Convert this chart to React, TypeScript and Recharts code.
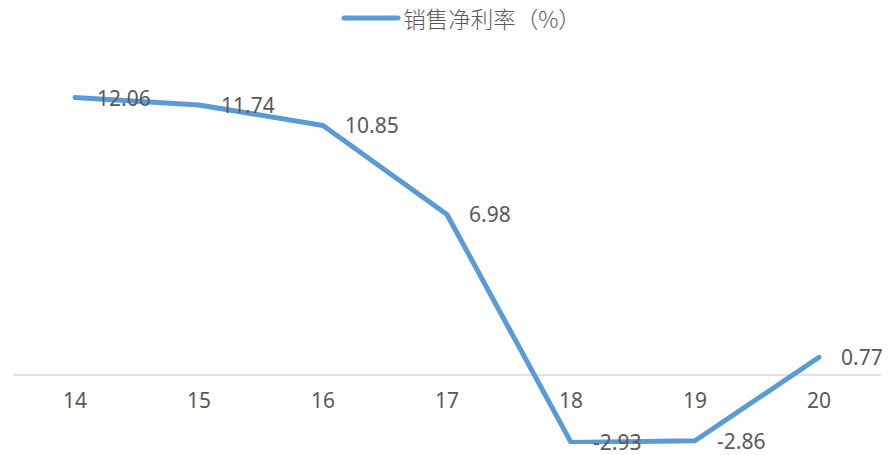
import React from "react";
import { LineChart, Line, XAxis, YAxis, ReferenceLine, Legend, LabelList } from "recharts";

const categories = ["14", "15", "16", "17", "18", "19", "20"];
const netMargin = [12.06, 11.74, 10.85, 6.98, -2.93, -2.86, 0.77];
const seriesName = "销售净利率（%）";

const data = categories.map((c, i) => ({ cat: c, v: netMargin[i] }));

const FONT = '"Noto Sans CJK SC", "Noto Sans", sans-serif';
const NUM_FONT = '"Noto Sans", "DejaVu Sans", sans-serif';
const GRAY = "#595959";
const BLUE = "#5B9BD5";

const LegendContent = () => (
  <div style={{ display: "flex", justifyContent: "center", alignItems: "center", height: 36, fontFamily: FONT, paddingLeft: 34 }}>
    <svg width={60} height={10} style={{ marginRight: 2 }}>
      <line x1={3} y1={5} x2={57} y2={5} stroke={BLUE} strokeWidth={5} strokeLinecap="round" />
    </svg>
    <span style={{ fontSize: 22.5, color: GRAY, fontWeight: 300 }}>{seriesName}</span>
  </div>
);

const Tick = (props: any) => {
  const { x, y, payload } = props;
  return (
    <text x={x} y={y} dy={-52} textAnchor="middle" dominantBaseline="central" fill={GRAY} fontSize={21} fontFamily={NUM_FONT}>
      {payload.value}
    </text>
  );
};

const ValueLabel = (props: any) => {
  const { x, y, value } = props;
  return (
    <text x={x + 22} y={y} dominantBaseline="central" fill={GRAY} fontSize={21} fontFamily={NUM_FONT}>
      {Number(value).toFixed(2)}
    </text>
  );
};

export default function App() {
  return (
    <div style={{ position: "absolute", left: 0, top: 0 }}>
      <LineChart width={888} height={455} data={data} margin={{ top: 40, right: 7, bottom: 10, left: 13 }}>
        <Legend verticalAlign="top" align="center" content={<LegendContent />} wrapperStyle={{ top: 0, left: 0, width: 888 }} />
        <XAxis dataKey="cat" axisLine={false} tickLine={false} height={1} tick={<Tick />} interval={0} padding={{ left: 62, right: 62 }} />
        <YAxis hide domain={[-3, 13]} allowDataOverflow />
        <ReferenceLine y={0} stroke="#D9D9D9" strokeWidth={1.5} />
        <Line
          dataKey="v"
          name={seriesName}
          stroke={BLUE}
          strokeWidth={5}
          strokeLinecap="round"
          strokeLinejoin="round"
          dot={false}
          isAnimationActive={false}
        >
          <LabelList dataKey="v" content={<ValueLabel />} />
        </Line>
      </LineChart>
    </div>
  );
}
